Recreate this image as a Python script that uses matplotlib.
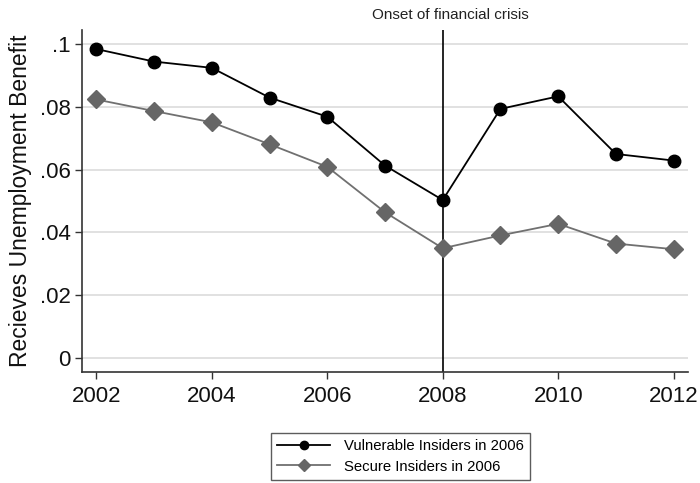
import matplotlib.pyplot as plt

plt.rcParams['font.family'] = ['Liberation Sans', 'DejaVu Sans']

# 数据
years = [2002, 2003, 2004, 2005, 2006, 2007, 2008, 2009, 2010, 2011, 2012]
vulnerable = [0.0985, 0.0945, 0.0925, 0.0830, 0.0769, 0.0613, 0.0503,
              0.0794, 0.0834, 0.0650, 0.0629]
secure = [0.0824, 0.0787, 0.0751, 0.0681, 0.0609, 0.0464, 0.0349,
          0.0390, 0.0427, 0.0364, 0.0346]
y_ticks = [0, 0.02, 0.04, 0.06, 0.08, 0.1]
y_tick_labels = ['0', '.02', '.04', '.06', '.08', '.1']
x_ticks = [2002, 2004, 2006, 2008, 2010, 2012]
crisis_year = 2008

fig = plt.figure(figsize=(7, 4.83), dpi=100)
ax = fig.add_axes([0.117, 0.2305, 0.866, 0.7075])

# 网格线
for yt in y_ticks:
    ax.axhline(yt, color='#dcdcdc', lw=1.2, zorder=0)

# 金融危机竖线
ax.axvline(crisis_year, color='black', lw=1.2, zorder=1)

ax.plot(years, vulnerable, color='black', lw=1.3, marker='o', markersize=9,
        label='Vulnerable Insiders in 2006', zorder=3)
ax.plot(years, secure, color='#707070', lw=1.3, marker='D', markersize=9,
        markerfacecolor='#666666', markeredgecolor='#666666',
        label='Secure Insiders in 2006', zorder=2)

ax.set_xlim(2001.75, 2012.25)
ax.set_ylim(-0.0045, 0.1046)
ax.set_xticks(x_ticks)
ax.set_yticks(y_ticks)
ax.set_yticklabels(y_tick_labels)
ax.tick_params(axis='both', labelsize=16, length=5, width=1, color='#333333',
               colors='#111111', direction='out')
ax.tick_params(axis='x', pad=5)
ax.tick_params(axis='y', pad=3)
ax.set_ylabel('Recieves Unemployment Benefit', fontsize=16.5, color='#111111',
              labelpad=6)

for s in ['top', 'right']:
    ax.spines[s].set_visible(False)
for s in ['left', 'bottom']:
    ax.spines[s].set_color('#333333')
    ax.spines[s].set_linewidth(1.2)

fig.text(450 / 700, 1 - 15 / 483, 'Onset of financial crisis', ha='center',
         va='center', fontsize=11, color='#222222')

leg = fig.legend(loc='upper left', bbox_to_anchor=(0.387, 0.1035),
                 borderaxespad=0, fontsize=10.7, frameon=True, fancybox=False,
                 borderpad=0.4, handlelength=3.6, handletextpad=0.9,
                 labelspacing=0.45)
leg.get_frame().set_edgecolor('#333333')
leg.get_frame().set_linewidth(1)
for h in leg.legend_handles:
    h.set_markersize(6)

fig.savefig('out.png', dpi=100)
